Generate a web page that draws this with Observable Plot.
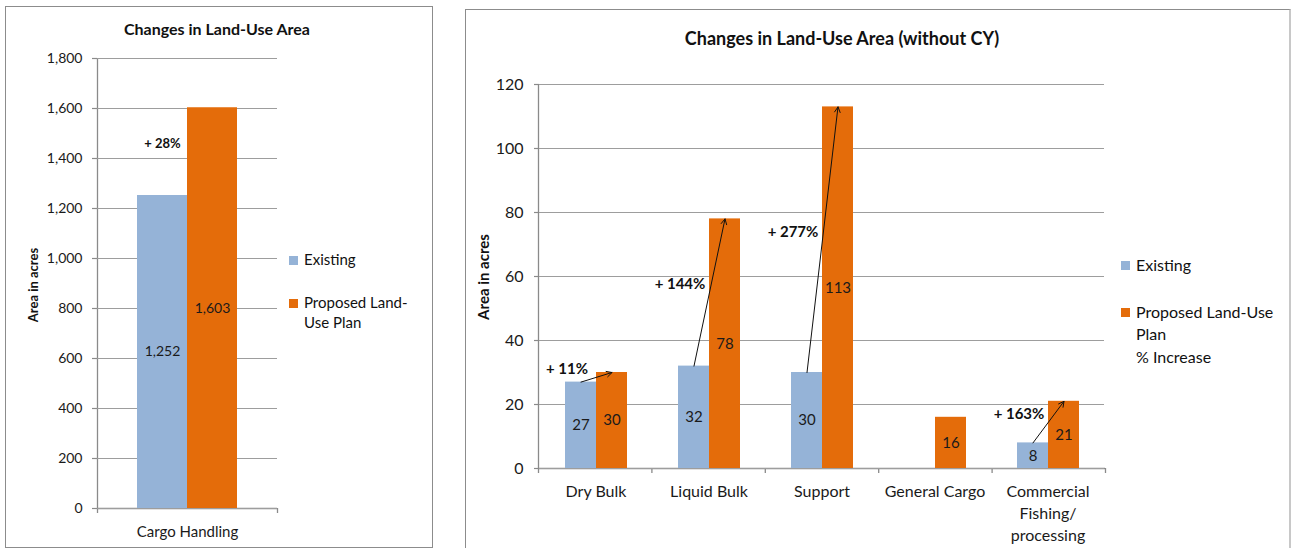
<!DOCTYPE html>
<html>
<head>
<meta charset="utf-8">
<script src="https://cdn.jsdelivr.net/npm/d3@7"></script>
<script src="https://cdn.jsdelivr.net/npm/@observablehq/plot@0.6"></script>
<style>
  body { margin: 0; background: #fff; }
  #root { position: relative; width: 1291px; height: 548px; overflow: hidden; background: #fff;
          font-family: Lato, "Open Sans", sans-serif; color: #111; }
  .panel { position: absolute; border: 1.5px solid #8c8c8c; box-sizing: border-box; background: #fff; }
  .layer { position: absolute; top: 0; }
  .title { position: absolute; font-weight: bold; white-space: nowrap; transform: translate(-50%, -50%); }
  .ylab { position: absolute; font-weight: bold; white-space: nowrap; transform: translate(-50%, -50%) rotate(-90deg); }
  .leg { position: absolute; white-space: nowrap; }
  .sw { position: absolute; width: 9px; height: 9px; }
</style>
</head>
<body>
<div id="root"></div>
<script>
// ---------- data ----------
const seriesKeys = ["Existing", "Proposed"];
const seriesColors = ["#95B3D7", "#E46C0A"];

const leftTitle = "Changes in Land-Use Area";
const leftCategories = ["Cargo Handling"];
const leftExisting = [1252];
const leftProposed = [1603];
const leftIncrease = [28];
const leftYTicks = [0, 200, 400, 600, 800, 1000, 1200, 1400, 1600, 1800];
const leftLegend = ["Existing", "Proposed Land-\nUse Plan"];

const rightTitle = "Changes in Land-Use Area (without CY)";
const rightCategories = ["Dry Bulk", "Liquid Bulk", "Support", "General Cargo", "Commercial\nFishing/\nprocessing"];
const rightExisting = [27, 32, 30, null, 8];
const rightProposed = [30, 78, 113, 16, 21];
const rightIncrease = [11, 144, 277, null, 163];
const rightYTicks = [0, 20, 40, 60, 80, 100, 120];
const rightLegend = ["Existing", "Proposed Land-Use\nPlan\n% Increase"];

const yLabel = "Area in acres";

// ---------- drawing ----------
const root = document.getElementById("root");
const gridColor = "#9d9d9d";
const axisColor = "#8a8a8a";
const FONT = "Lato, 'Open Sans', sans-serif";

function addDiv(cls, css, text) {
  const d = document.createElement("div");
  d.className = cls;
  Object.assign(d.style, css);
  if (text != null) d.textContent = text;
  root.appendChild(d);
  return d;
}

function drawChart(cfg) {
  const {categories, existing, proposed, increase, yTicks, fmt, left, width, height, margins,
         fs, padOuter, pctDx, fxLineHeight, showArrows} = cfg;
  const ymax = yTicks[yTicks.length - 1];
  const rows = categories.flatMap((c, i) => [
    {cat: c, series: "Existing", value: existing[i]},
    {cat: c, series: "Proposed", value: proposed[i]}
  ]).filter(d => d.value != null);
  const arrows = categories.map((c, i) => ({cat: c, from: existing[i], to: proposed[i], pct: increase[i]}))
    .filter(d => d.pct != null);

  const common = {
    width, height,
    marginLeft: margins[0], marginRight: margins[1], marginTop: margins[2], marginBottom: margins[3],
    style: {fontFamily: FONT, fontSize: fs.data + "px", color: "#111",
            background: "transparent", overflow: "visible"}
  };

  // axis lines + category boundary ticks (behind)
  const under = Plot.plot({
    ...common,
    x: {domain: [0, categories.length], axis: null},
    y: {domain: [0, ymax], axis: null},
    marks: [
      Plot.ruleX([0], {stroke: axisColor, strokeWidth: 1.3}),
      Plot.ruleY([0], {stroke: axisColor, strokeWidth: 1.3}),
      Plot.axisX(d3.range(categories.length + 1), {tickSize: 5, tickFormat: () => "", stroke: axisColor, strokeWidth: 1.3, label: null})
    ]
  });
  under.classList.add("layer");
  under.style.left = left + "px";
  root.appendChild(under);

  const marks = [
    Plot.gridY(yTicks, {stroke: gridColor, strokeOpacity: 1, strokeWidth: 1.2}),
    Plot.axisY(yTicks, {tickSize: 5, tickPadding: cfg.tickPad, tickFormat: fmt, stroke: axisColor,
                        strokeWidth: 1.2, label: null, fill: "#1a1a1a", fontSize: fs.tick}),
    Plot.barY(rows, {fx: "cat", x: "series", y: "value", fill: "series"}),
    Plot.text(rows, {fx: "cat", x: "series", y: d => d.value / 2, text: d => fmt(d.value), fill: "#1a1a1a", fontSize: fs.data})
  ];
  if (showArrows) {
    marks.push(Plot.arrow(arrows, {fx: "cat", x1: () => "Existing", y1: "from", x2: () => "Proposed", y2: "to",
                                   stroke: "#111", strokeWidth: 1, headLength: 9, headAngle: 55}));
  }
  marks.push(
    Plot.text(arrows, {fx: "cat", x: () => "Existing", y: d => (d.from + d.to) / 2, dx: pctDx, dy: -8,
                       text: d => `+ ${d.pct}%`, fontWeight: "bold", fill: "#111", fontSize: fs.pct}),
    Plot.axisFx({anchor: "bottom", tickSize: 0, tickPadding: 13, label: null, lineHeight: fxLineHeight,
                 fill: "#1a1a1a", fontSize: fs.cat})
  );

  const main = Plot.plot({
    ...common,
    fx: {domain: categories, padding: 0, label: null},
    x: {domain: seriesKeys, paddingInner: 0, paddingOuter: padOuter, axis: null},
    y: {domain: [0, ymax], label: null},
    color: {domain: seriesKeys, range: seriesColors},
    marks
  });
  main.classList.add("layer");
  main.style.left = left + "px";
  root.appendChild(main);
}

// panels
addDiv("panel", {left: "5px", top: "6px", width: "428px", height: "542px"});
addDiv("panel", {left: "465px", top: "9px", width: "826px", height: "560px", borderRight: "2px solid #c8c8c8"});

// left chart
drawChart({
  categories: leftCategories, existing: leftExisting, proposed: leftProposed, increase: leftIncrease,
  yTicks: leftYTicks, fmt: d3.format(","), left: 0, width: 440, height: 548,
  margins: [97, 163, 58, 40], fs: {tick: 14, data: 14, pct: 13, cat: 15},
  padOuter: 0.8, pctDx: 0, tickPad: 10, fxLineHeight: 1.5, showArrows: false
});
// right chart
drawChart({
  categories: rightCategories, existing: rightExisting, proposed: rightProposed, increase: rightIncrease,
  yTicks: rightYTicks, fmt: d3.format("d"), left: 465, width: 826, height: 548,
  margins: [73, 186, 84, 80], fs: {tick: 16, data: 15, pct: 15, cat: 16},
  padOuter: 0.78, pctDx: -14, tickPad: 11, fxLineHeight: 1.38, showArrows: true
});

// titles
addDiv("title", {left: "217px", top: "28px", fontSize: "16px"}, leftTitle);
addDiv("title", {left: "842px", top: "38px", fontSize: "18px"}, rightTitle);
// y labels
addDiv("ylab", {left: "33px", top: "285px", fontSize: "13px"}, yLabel);
addDiv("ylab", {left: "483px", top: "277px", fontSize: "15px"}, yLabel);

// legends
function legend(x, ys, labels, fontSize, lineH) {
  labels.forEach((lab, i) => {
    const lines = lab.split("\n");
    addDiv("sw", {left: x + "px", top: (ys[i] - 4.5) + "px", background: seriesColors[i]});
    lines.forEach((ln, j) => {
      addDiv("leg", {left: (x + 15) + "px", top: (ys[i] + j * lineH - fontSize * 0.65) + "px",
                     fontSize: fontSize + "px", lineHeight: "1.3"}, ln);
    });
  });
}
legend(289, [260, 303], leftLegend, 15, 20);
legend(1121, [265, 312], rightLegend, 16, 22.5);
</script>
</body>
</html>
